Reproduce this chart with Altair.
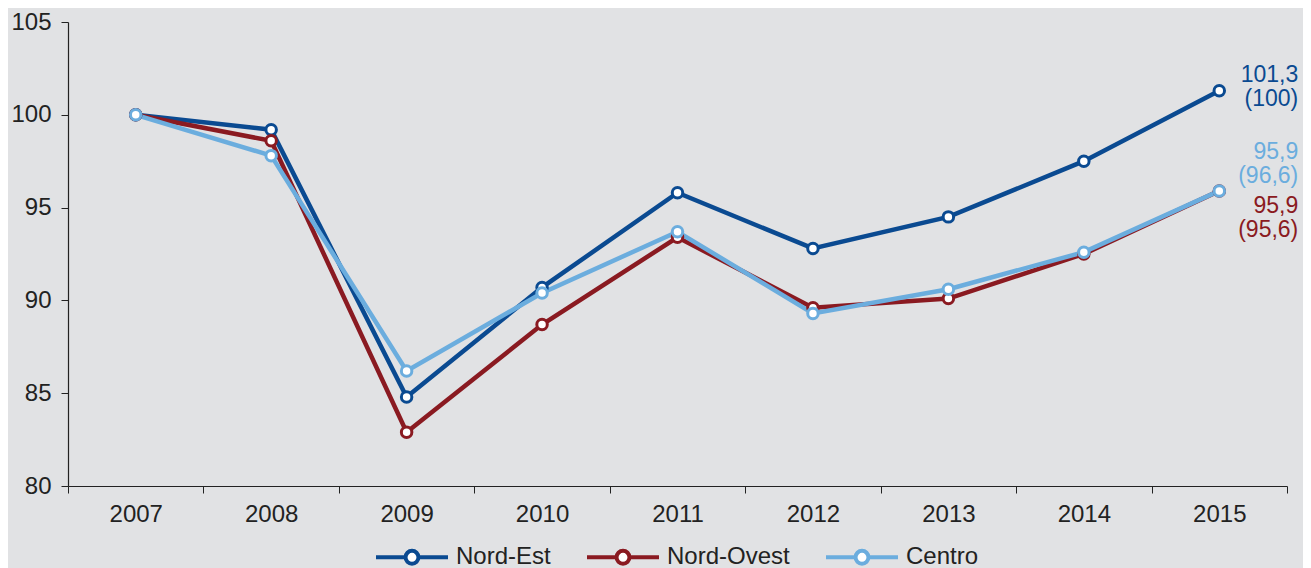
import altair as alt
import pandas as pd

years = ["2007", "2008", "2009", "2010", "2011", "2012", "2013", "2014", "2015"]
nord_est = [100, 99.2, 84.8, 90.7, 95.8, 92.8, 94.5, 97.5, 101.3]
nord_ovest = [100, 98.6, 82.9, 88.7, 93.4, 89.6, 90.1, 92.5, 95.9]
centro = [100, 97.8, 86.2, 90.4, 93.7, 89.3, 90.6, 92.6, 95.9]

series = ["Nord-Est", "Nord-Ovest", "Centro"]
colors = ["#0a4a91", "#8a1a21", "#6badde"]
annot_text = ["101,3\n(100)", "95,9\n(95,6)", "95,9\n(96,6)"]
annot_dy = [-16, 15, -39]

rows = []
for s, vals in zip(series, [nord_est, nord_ovest, centro]):
    for y, v in zip(years, vals):
        rows.append({"anno": y, "serie": s, "valore": v})
df = pd.DataFrame(rows)

ann = pd.DataFrame({
    "anno": [years[-1]] * 3,
    "serie": series,
    "valore": [nord_est[-1], nord_ovest[-1], centro[-1]],
    "testo": annot_text,
})

FONT = "Liberation Sans"
FS = 24

x = alt.X("anno:N", title=None, sort=years,
          scale=alt.Scale(paddingInner=0, paddingOuter=0),
          axis=alt.Axis(labelAngle=0, tickBand="extent", labelPadding=9))
y = alt.Y("valore:Q", title=None,
          scale=alt.Scale(domain=[80, 105], nice=False, zero=False),
          axis=alt.Axis(values=[80, 85, 90, 95, 100, 105], grid=False, labelPadding=10))

legend_path = ("M-2.4,0L-0.43,0M0.43,0L2.4,0"
               "M0.43,0A0.43,0.43,0,1,1,-0.43,0A0.43,0.43,0,1,1,0.43,0Z")

color = alt.Color(
    "serie:N", sort=series,
    scale=alt.Scale(domain=series, range=colors),
    legend=alt.Legend(
        title=None, orient="none", direction="horizontal",
        legendX=327, legendY=518,
        symbolType=legend_path, symbolSize=900, symbolStrokeWidth=4,
        symbolFillColor="white", labelFontSize=FS, labelFont=FONT,
        labelFontWeight="normal",
        labelColor="#222222", labelOffset=27, columnPadding=28, padding=0,
        labelLimit=400,
    ),
)

layers = []
for s in series:
    base = alt.Chart(df).transform_filter(alt.datum.serie == s)
    layers.append(base.mark_line(strokeWidth=4.5).encode(x=x, y=y, color=color))
for s, c in zip(series, colors):
    base = alt.Chart(df).transform_filter(alt.datum.serie == s)
    layers.append(base.mark_point(filled=True, fill="white", stroke=c, size=110,
                                  strokeWidth=3, opacity=1)
                  .encode(x=x, y=y))

for s, c, d in zip(series, colors, annot_dy):
    layers.append(
        alt.Chart(ann).transform_filter(alt.datum.serie == s).mark_text(
            align="right", baseline="middle", dx=79, dy=d, fontSize=23, font=FONT,
            lineBreak="\n", lineHeight=24, color=c,
        ).encode(x=x, y=y, text="testo:N")
    )

chart = alt.layer(*layers).properties(
    width=1219, height=464,
    autosize=alt.AutoSizeParams(type="none"),
    padding={"left": 60, "top": 14, "right": 16, "bottom": 82},
    background="#e1e2e4",
).configure_view(stroke=None).configure_axis(
    labelFont=FONT, labelFontSize=FS, labelColor="#222222",
    domainColor="#222222", tickColor="#222222", tickSize=7, domainWidth=1.2,
)

chart.save("out.html", embed_options={"renderer": "svg", "actions": False})
